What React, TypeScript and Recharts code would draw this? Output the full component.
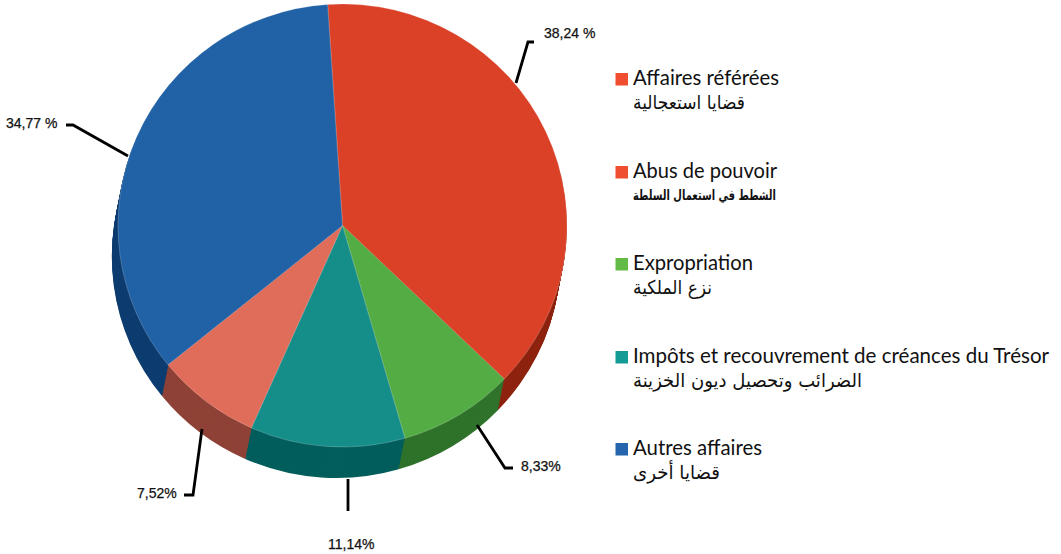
import { PieChart, Pie, Cell, Sector } from "recharts";

const categories = [
  "Affaires référées",
  "Expropriation",
  "Impôts et recouvrement de créances du Trésor",
  "Abus de pouvoir",
  "Autres affaires",
];
const values = [38.24, 8.33, 11.14, 7.52, 34.77];
const valueLabels = ["38,24 %", "8,33%", "11,14%", "7,52%", "34,77 %"];
const topColors = ["#DA4127", "#54AC45", "#158E8A", "#E06C5A", "#2161A5"];
const sideColors = ["#8E2410", "#2F722B", "#025E5C", "#8F4237", "#0E3D70"];

const legendFr = [
  "Affaires référées",
  "Abus de pouvoir",
  "Expropriation",
  "Impôts et recouvrement de créances du Trésor",
  "Autres affaires",
];
const legendAr = [
  "قضايا استعجالية",
  "الشطط في استعمال السلطة",
  "نزع الملكية",
  "الضرائب وتحصيل ديون الخزينة",
  "قضايا أخرى",
];
const legendColors = ["#F04E30", "#F04E30", "#62BB46", "#149B95", "#2565AE"];

// layout of the legend and the callouts, measured on the reference
const legendY = [78, 171, 263, 356, 448];
const legendFrWidth = [146, 144, 120, 416, 129];
const legendArWidth = [112, 143, 79, 229, 87];
const leaders = ["516,83 528,42 534,42", "477,425 505,468 513,468", "348,479 348,511", "202,429 193,495 184,495", "128,156 73,125 66,125"];
const labelX = [544, 521, 328, 137, 6];
const labelY = [33, 466, 544, 493, 123];

const data = categories.map((name, i) => ({ name, value: values[i] }));

const CX = 342.5;
const CY = 225.5;
const RADIUS = 224.5;
const SQUASH = 221.5 / 224.5;
const DEPTH = 31;
const START = 93.8;
const layers = Array.from({ length: DEPTH }, (_, i) => DEPTH - i);

function FlatSlice(props: any) {
  const { cy } = props;
  return (
    <g transform={`translate(0 ${cy}) scale(1 ${SQUASH}) translate(0 ${-cy})`}>
      <Sector {...props} />
    </g>
  );
}

function renderCallout({ index }: any) {
  return (
    <g key={index}>
      <polyline points={leaders[index]} fill="none" stroke="#000" strokeWidth={2.8} />
      <text
        x={labelX[index]}
        y={labelY[index]}
        dominantBaseline="central"
        fontFamily="Liberation Sans"
        fontSize={14}
        fill="#111"
        stroke="#111"
        strokeWidth={0.25}
      >
        {valueLabels[index]}
      </text>
    </g>
  );
}

function LegendBlock() {
  return (
    <g>
      {legendFr.map((name, i) => (
        <g key={name}>
          <rect x={615.5} y={legendY[i] - 5} width={12.5} height={12.5} fill={legendColors[i]} />
          <text
            x={633}
            y={legendY[i] - 1}
            dominantBaseline="central"
            fontFamily="Lato"
            fontSize={20.5}
            fill="#111"
            textLength={legendFrWidth[i]}
            lengthAdjust="spacingAndGlyphs"
          >
            {name}
          </text>
          <text
            x={633}
            y={legendY[i] + 24}
            dominantBaseline="central"
            fontFamily="DejaVu Sans"
            fontSize={i === 1 ? 14 : 19}
            fontWeight={i === 1 ? 700 : 400}
            fill="#111"
            textLength={legendArWidth[i]}
            lengthAdjust="spacingAndGlyphs"
          >
            {legendAr[i]}
          </text>
        </g>
      ))}
    </g>
  );
}

export default function App() {
  return (
    <div style={{ position: "absolute", left: 0, top: 0, width: 1061, height: 554, background: "#fff" }}>
      <PieChart width={1061} height={554} margin={{ top: 0, right: 0, bottom: 0, left: 0 }}>
        {layers.map((k) => (
          <Pie
            key={k}
            data={data}
            dataKey="value"
            cx={CX - k * 0.2}
            cy={CY + k}
            outerRadius={RADIUS}
            startAngle={START}
            endAngle={START - 360}
            stroke="none"
            shape={FlatSlice}
            legendType="none"
            isAnimationActive={false}
          >
            {data.map((d, i) => (
              <Cell key={d.name} fill={sideColors[i]} />
            ))}
          </Pie>
        ))}
        <Pie
          data={data}
          dataKey="value"
          cx={CX}
          cy={CY}
          outerRadius={RADIUS}
          startAngle={START}
          endAngle={START - 360}
          stroke="#fff"
          strokeOpacity={0.35}
          strokeWidth={0.6}
          shape={FlatSlice}
          label={renderCallout}
          labelLine={false}
          isAnimationActive={false}
        >
          {data.map((d, i) => (
            <Cell key={d.name} fill={topColors[i]} />
          ))}
        </Pie>
        <LegendBlock />
      </PieChart>
    </div>
  );
}
